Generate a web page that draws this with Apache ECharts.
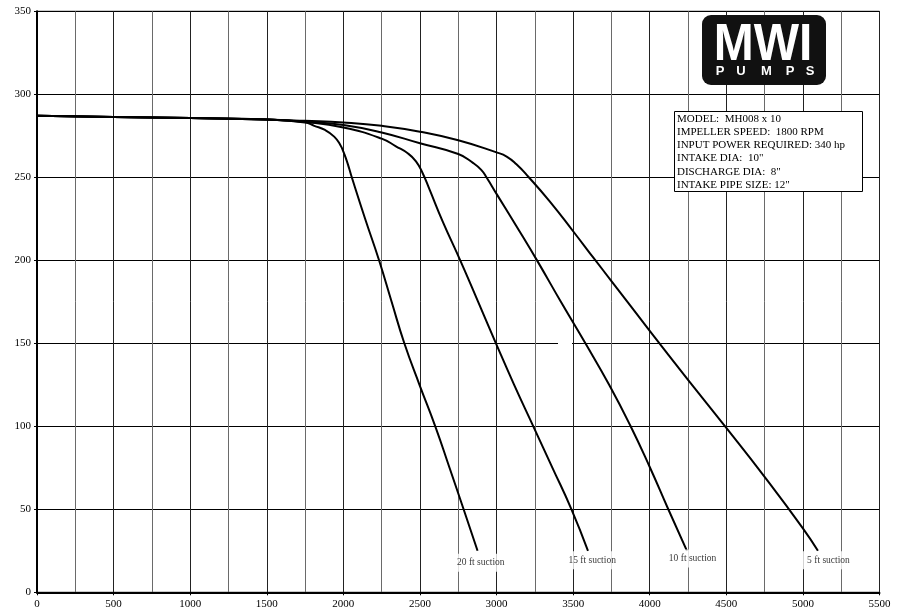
<!DOCTYPE html>
<html>
<head>
<meta charset="utf-8">
<script src="https://cdn.jsdelivr.net/npm/echarts@6/dist/echarts.min.js"></script>
<style>
html,body{margin:0;padding:0;background:#fff;}
#chart{width:898px;height:613px;}
</style>
</head>
<body>
<div id="chart"></div>
<script>
// ---- data (flow, head) ----
const suction20 = [[0,287.1],[500,286.4],[1000,285.7],[1500,284.8],[1750,283],[1810,281],[1880,278.5],[1940,274.5],[1980,269.5],[2000,265.5],[2020,260.5],[2039,255],[2055,250],[2142,225],[2233,200],[2315,175],[2398,150],[2497,125],[2600,100],[2693,75],[2785,50],[2876,25]];
const suction15 = [[0,287.1],[500,286.4],[1000,285.7],[1500,284.8],[1750,283.3],[2000,280],[2250,273.3],[2343,268.7],[2420,264.5],[2474,259.6],[2517,252.6],[2561,243],[2648,223.5],[2763,200],[2880,175],[2996,150],[3115,125],[3240,100],[3365,75],[3489,50],[3597,25]];
const suction10 = [[0,287.1],[500,286.4],[1000,285.7],[1500,284.8],[1750,283.5],[2000,281.5],[2250,277],[2500,270.5],[2750,264],[2846,258.7],[2900,254.5],[2934,250],[3000,240],[3130,220.5],[3267,199.5],[3420,175],[3580,150],[3735,125],[3873,100.5],[4000,75.5],[4119,50.5],[4243,25]];
const suction5 = [[0,287.1],[500,286.4],[1000,285.7],[1500,284.8],[1750,284],[2000,283],[2250,281],[2500,277.5],[2750,272.3],[3000,265],[3066,262.5],[3130,257.8],[3206,250.5],[3347,235.5],[3500,217.5],[3641,200.5],[3750,187.5],[4000,157.5],[4250,128],[4500,99],[4750,69.5],[5000,38.5],[5098,25]];
const curveNames = ['20 ft suction','15 ft suction','10 ft suction','5 ft suction'];
const labelX = [2897, 3624, 4280, 5167];
const labelY = [17.8, 19.3, 20.3, 19.3];
const xTicks = {min:0, max:5500, step:500};
const yTicks = {min:0, max:350, step:50};
const infoLines = ['MODEL:  MH008 x 10','IMPELLER SPEED:  1800 RPM','INPUT POWER REQUIRED: 340 hp','INTAKE DIA:  10"','DISCHARGE DIA:  8"','INTAKE PIPE SIZE: 12"'];

const serif = '"Liberation Serif", "Times New Roman", serif';
const curves = [suction20, suction15, suction10, suction5];

const chart = echarts.init(document.getElementById('chart'), null, {renderer:'canvas'});

const series = curves.map((d, i) => ({
  name: curveNames[i],
  type: 'line',
  data: d,
  smooth: 0.5,
  showSymbol: false,
  symbol: 'none',
  lineStyle: {color:'#000', width:2},
  z: 3
}));
series.push({
  type: 'scatter',
  data: labelX.map((x, i) => ({value:[x, labelY[i]], name: curveNames[i]})),
  symbolSize: 0,
  silent: true,
  z: 4,
  label: {
    show: true,
    position: 'inside',
    formatter: p => p.name,
    fontFamily: serif,
    fontSize: 9.5,
    color: '#000',
    backgroundColor: '#fff',
    padding: [4, 6]
  }
});

chart.setOption({
  animation: false,
  backgroundColor: '#fff',
  grid: {left:37, right:18.5, top:11.3, bottom:20.7, show:true, borderColor:'#000', borderWidth:1},
  xAxis: {
    type: 'value', min: xTicks.min, max: xTicks.max, interval: xTicks.step,
    axisLine: {show:true, onZero:false, lineStyle:{color:'#000', width:2}},
    axisTick: {show:true, length:3, lineStyle:{color:'#000'}},
    axisLabel: {color:'#000', fontFamily:serif, fontSize:11, margin:6, formatter: v => String(v)},
    splitLine: {show:true, lineStyle:{color:'#222', width:1}},
    minorTick: {show:false, splitNumber:2},
    minorSplitLine: {show:true, lineStyle:{color:'#6a6a6a', width:1}}
  },
  yAxis: {
    type: 'value', min: yTicks.min, max: yTicks.max, interval: yTicks.step,
    axisLine: {show:true, onZero:false, lineStyle:{color:'#000', width:2}},
    axisTick: {show:true, length:3, lineStyle:{color:'#000'}},
    axisLabel: {color:'#000', fontFamily:serif, fontSize:11, margin:6, formatter: v => String(v)},
    splitLine: {show:true, lineStyle:{color:'#000', width:1}}
  },
  graphic: [
    {type:'rect', shape:{x:558, y:337, width:14, height:13}, style:{fill:'#fff'}, z:1},
    {type:'rect', shape:{x:702, y:15, width:124, height:70, r:9}, style:{fill:'#111'}, z:10},
    {type:'text', x:763, y:45.5, scaleX:0.94, z:11,
     style:{text:'MWI', fill:'#fff', font:'bold 51px "Liberation Sans", Arial, sans-serif', textAlign:'center', textVerticalAlign:'middle'}},
    ...['P','U','M','P','S'].map((ch, i) => ({
      type:'text', x:[720,741,766.5,790,810][i], y:71.5, z:11,
      style:{text:ch, fill:'#fff', font:'bold 13px "Liberation Sans", Arial, sans-serif', textAlign:'center', textVerticalAlign:'middle'}
    })),
    {type:'rect', shape:{x:674.5, y:111.5, width:188, height:80}, style:{fill:'#fff', stroke:'#000', lineWidth:1}, z:10},
    {type:'text', x:677, y:112, z:11,
     style:{text: infoLines.join('\n'), fill:'#000', font:'11px ' + serif, lineHeight:13.3, textAlign:'left', textVerticalAlign:'top'}}
  ],
  series: series
});
</script>
</body>
</html>
